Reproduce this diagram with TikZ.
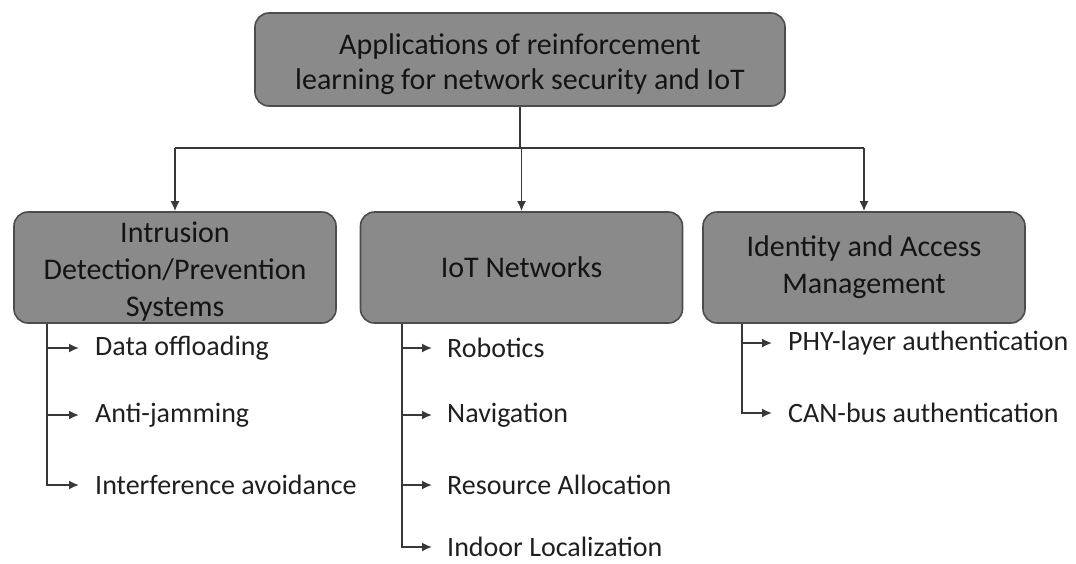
\documentclass[tikz,border=0pt]{standalone}
\usepackage{fontspec}
\setmainfont{Carlito}
\usetikzlibrary{arrows.meta}
\tikzset{
  box/.style={draw=black!70,line width=1.6pt,fill=black!46,rounded corners=14pt,
    minimum width=322pt,minimum height=111pt,align=center,inner sep=2pt,
    text=black!92,font=\fontsize{30}{37}\selectfont},
  item/.style={anchor=west,inner sep=0pt,text=black!88,font=\fontsize{28}{34}\selectfont},
  line/.style={line width=1.7pt,draw=black!78},
  link/.style={line,-{Latex[length=10pt,width=9pt]}}
}
\begin{document}
\begin{tikzpicture}[x=1pt,y=-1pt]
\useasboundingbox (0,0) rectangle (1076,563);
% root and the three groups
\node[box,minimum width=530pt,minimum height=93pt,font=\fontsize{30}{35}\selectfont] (top) at (520,59.5) {\rule{0pt}{30pt}Applications of reinforcement\\learning for network security and IoT};
\node[box] (ids) at (175,267.5) {\rule{0pt}{28pt}Intrusion\\Detection/Prevention\\Systems};
\node[box] (iot) at (521.5,267.5) {IoT Networks};
\node[box] (iam) at (864,267.5) {Identity and Access\\Management};
% tree from the root
\coordinate (split) at (520,148);
\draw[line] (top.south) -- (split);
\draw[line] (split -| ids.north) -- (split -| iam.north);
\foreach \b in {ids,iot,iam}\draw[link] (split -| \b.north) -- (\b.north);
% leaves
\foreach \t/\y [count=\i] in {Data offloading/348,Anti-jamming/415,Interference avoidance/485}
  \node[item] (ids\i) at (95,\y) {\t};
\foreach \t/\y [count=\i] in {Robotics/348,Navigation/415,Resource Allocation/485,Indoor Localization/547}
  \node[item] (iot\i) at (447,\y) {\t};
\foreach \t/\y [count=\i] in {PHY-layer authentication/343,CAN-bus authentication/413}
  \node[item] (iam\i) at (788,\y) {\t};
\foreach \i in {1,2,3}\draw[link] ([xshift=34pt]ids.south west) |- ([xshift=-16pt]ids\i.west);
\foreach \i in {1,...,4}\draw[link] ([xshift=42pt]iot.south west) |- ([xshift=-15pt]iot\i.west);
\foreach \i in {1,2}\draw[link] ([xshift=40pt]iam.south west) |- ([xshift=-16pt]iam\i.west);
\end{tikzpicture}
\end{document}
